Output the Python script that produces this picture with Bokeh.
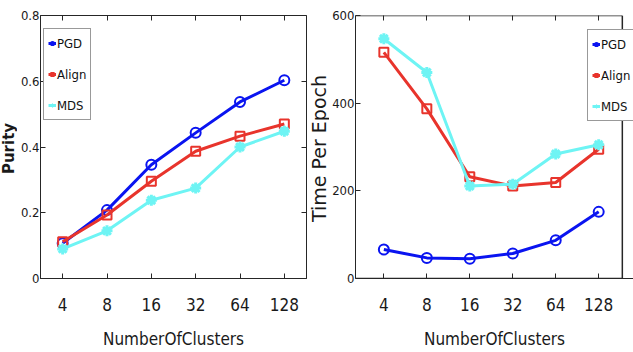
import math
from bokeh.plotting import figure
from bokeh.layouts import row
from bokeh.models import (Range1d, FixedTicker, Legend, LegendItem, LinearAxis,
                          CustomJSTickFormatter, Label)
from bokeh.embed import file_html
from bokeh.resources import INLINE

clusters = ["4", "8", "16", "32", "64", "128"]

purity_pgd = [0.107, 0.208, 0.346, 0.443, 0.537, 0.603]
purity_align = [0.112, 0.193, 0.296, 0.387, 0.433, 0.470]
purity_mds = [0.090, 0.145, 0.238, 0.275, 0.400, 0.448]

time_pgd = [66, 47, 45, 57, 87, 152]
time_align = [516, 387, 232, 211, 219, 295]
time_mds = [547, 470, 211, 215, 284, 305]

series_names = ["PGD", "Align", "MDS"]
purity_ticks = [0, 0.2, 0.4, 0.6, 0.8]
time_ticks = [0, 200, 400, 600]

BLUE = "#0a14f0"
RED = "#e8342c"
CYAN = "#6ef4f4"
NARROW = "DejaVu Sans Condensed"
FRAME = "#262626"
TXT = "#1a1a1a"
H = 352
TOP, BOTTOM = 15, 74

xpos = list(range(len(clusters)))
xlabels = {i: c for i, c in enumerate(clusters)}


def label_strip(width, text, style, size):
    f = figure(width=width, height=H, x_range=Range1d(0, 1), y_range=Range1d(0, 1),
               x_axis_location=None, y_axis_location=None,
               min_border_left=0, min_border_right=0, min_border_top=TOP,
               min_border_bottom=BOTTOM, output_backend="svg", toolbar_location=None)
    f.outline_line_color = None
    f.xgrid.visible = False
    f.ygrid.visible = False
    f.add_layout(Label(x=width / 2, y=H - BOTTOM - 148, x_units="screen", y_units="screen",
                       text=text, angle=math.pi / 2, text_align="center",
                       text_baseline="middle", text_font="DejaVu Sans",
                       text_font_style=style, text_font_size=size, text_color=TXT))
    return f


def make_fig(width, xr, yr, yticks, min_left, min_right, ytick_size, mirror_right=True):
    p = figure(width=width, height=H, x_range=xr, y_range=yr,
               output_backend="svg", toolbar_location=None,
               min_border_left=min_left, min_border_right=min_right, min_border_top=TOP,
               min_border_bottom=BOTTOM)
    p.xgrid.visible = False
    p.ygrid.visible = False
    p.outline_line_color = FRAME
    p.outline_line_width = 1
    p.background_fill_color = "white"
    p.border_fill_color = "white"
    p.yaxis.ticker = FixedTicker(ticks=yticks)
    p.xaxis.ticker = FixedTicker(ticks=xpos)
    p.xaxis.major_label_overrides = xlabels
    for ax in (p.xaxis[0], p.yaxis[0]):
        ax.major_tick_in = 5
        ax.major_tick_out = 0
        ax.minor_tick_line_color = None
        ax.axis_line_color = FRAME
        ax.major_tick_line_color = FRAME
        ax.major_label_text_font = NARROW
        ax.major_label_text_color = TXT
    p.xaxis.major_label_text_font_size = "17px"
    p.yaxis.major_label_text_font_size = ytick_size
    p.xaxis.major_label_standoff = 19
    p.yaxis.major_label_standoff = 1
    p.xaxis.axis_label = "NumberOfClusters"
    p.xaxis.axis_label_text_font = NARROW
    p.xaxis.axis_label_text_font_size = "17px"
    p.xaxis.axis_label_text_font_style = "normal"
    p.xaxis.axis_label_standoff = 15
    p.xaxis.axis_label_text_color = TXT
    top = LinearAxis(ticker=FixedTicker(ticks=xpos), major_tick_in=5, major_tick_out=0,
                     formatter=CustomJSTickFormatter(code="return ''"),
                     axis_line_color=None, major_tick_line_color=FRAME,
                     minor_tick_line_color=None, major_label_standoff=0)
    p.add_layout(top, "above")
    if mirror_right:
        right = LinearAxis(ticker=FixedTicker(ticks=yticks), major_tick_in=5, major_tick_out=0,
                           formatter=CustomJSTickFormatter(code="return ''"),
                           axis_line_color=None, major_tick_line_color=FRAME,
                           minor_tick_line_color=None, major_label_standoff=0)
        p.add_layout(right, "right")
    return p


def add_series(p, ys):
    items = []
    specs = [(ys[0], BLUE, "circle"), (ys[1], RED, "square"), (ys[2], CYAN, "asterisk")]
    for (vals, color, marker), name in zip(specs, series_names):
        l = p.line(xpos, vals, line_color=color, line_width=3)
        if marker == "circle":
            m = p.scatter(xpos, vals, marker="circle", size=10, fill_color=None,
                          line_color=color, line_width=2)
        elif marker == "square":
            m = p.scatter(xpos, vals, marker="square", size=9, fill_color=None,
                          line_color=color, line_width=2)
        else:
            m = p.scatter(xpos, vals, marker="asterisk", size=11,
                          line_color=color, line_width=3)
        items.append(LegendItem(label=name, renderers=[l, m]))
    return items


def style_legend(items, location):
    lg = Legend(items=items, location=location)
    lg.label_text_font = NARROW
    lg.label_text_font_size = "13px"
    lg.label_text_color = "#111111"
    lg.glyph_width = 8
    lg.glyph_height = 20
    lg.label_height = 20
    lg.label_width = 10
    lg.label_standoff = 1
    lg.spacing = 11
    lg.padding = 4
    lg.margin = 0
    lg.border_line_color = "#333333"
    lg.border_line_width = 1
    lg.background_fill_alpha = 1
    return lg


L1 = label_strip(17, "Purity", "bold", "15px")

p1 = make_fig(290, Range1d(-0.5, 5.5), Range1d(0, 0.8), purity_ticks, 20, 1, "13px")
items1 = add_series(p1, [purity_pgd, purity_align, purity_mds])
p1.add_layout(style_legend(items1, (3, 158)), "center")

L2 = label_strip(22, "Time Per Epoch", "normal", "19px")

# right panel: frame edge drawn at x_frame_r, plot area extends to the page edge
x_lo, x_frame_r, x_hi = -0.66, 5.55, 5.81
p2 = make_fig(304, Range1d(x_lo, x_hi), Range1d(time_ticks[0], time_ticks[-1]), time_ticks,
              24, 0, "13px", mirror_right=False)
p2.outline_line_color = None
p2.xaxis[0].axis_line_color = None
p2.segment(x0=[x_lo, x_lo, x_frame_r], y0=[time_ticks[-1], time_ticks[0], time_ticks[0]],
           x1=[x_frame_r, x_frame_r, x_frame_r],
           y1=[time_ticks[-1], time_ticks[0], time_ticks[-1]],
           line_color=FRAME, line_width=1.5)
items2 = add_series(p2, [time_pgd, time_align, time_mds])
p2.add_layout(style_legend(items2, (232, 157)), "center")

layout = row(L1, p1, L2, p2)
open("out.html", "w").write(file_html(layout, INLINE))
